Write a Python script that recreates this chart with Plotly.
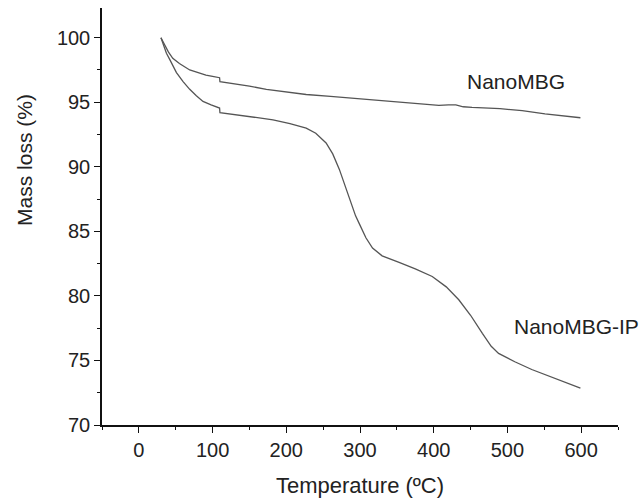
import plotly.graph_objects as go

# NanoMBG
t_mbg = [30, 35, 40, 46, 55, 69, 80, 91, 100, 109.5, 110, 130, 150, 173, 200, 227, 260, 300, 339, 370,
         407, 420, 430, 440, 452, 490, 520, 551, 575, 599]
m_mbg = [100, 99.4, 98.9, 98.4, 98.0, 97.5, 97.3, 97.1, 97.0, 96.9, 96.6, 96.45, 96.25, 96.0, 95.8, 95.6,
         95.45, 95.25, 95.06, 94.95, 94.75, 94.8, 94.8, 94.65, 94.6, 94.5, 94.35, 94.1, 93.95, 93.8]

# NanoMBG-IP
t_ip = [30, 34, 37.4, 42, 51, 60, 69, 78, 87, 98, 109.5, 110, 130, 150, 182, 205, 227, 240, 254, 263,
        272, 283, 294, 299, 308, 317, 330, 353, 375, 398, 417, 434, 450, 466, 478, 488, 510, 533, 565, 599]
m_ip = [100, 99.4, 98.8, 98.3, 97.3, 96.6, 96.0, 95.5, 95.06, 94.8, 94.55, 94.2, 94.05, 93.9, 93.64, 93.35,
        93.0, 92.6, 91.85, 91.0, 89.8, 88.0, 86.2, 85.6, 84.5, 83.7, 83.1, 82.6, 82.1, 81.5, 80.7, 79.7,
        78.5, 77.1, 76.1, 75.55, 74.9, 74.3, 73.6, 72.85]

x_ticks = [0, 100, 200, 300, 400, 500, 600]
y_ticks = [70, 75, 80, 85, 90, 95, 100]

FONT = "Liberation Sans, Arial, sans-serif"
LINE = "#555555"
TXT = "#222222"

fig = go.Figure()
fig.add_trace(go.Scatter(x=t_mbg, y=m_mbg, mode="lines", line=dict(color=LINE, width=1.3),
                         name="NanoMBG", showlegend=False))
fig.add_trace(go.Scatter(x=t_ip, y=m_ip, mode="lines", line=dict(color=LINE, width=1.3),
                         name="NanoMBG-IP", showlegend=False))

fig.add_annotation(x=511, y=96.6, text="NanoMBG", showarrow=False,
                   font=dict(family=FONT, size=21, color=TXT))
fig.add_annotation(xref="paper", yref="y", x=1.044, y=77.6, text="NanoMBG-IP", showarrow=False,
                   xanchor="right", font=dict(family=FONT, size=21, color=TXT))
# y-axis title (placed above centre, as in the reference)
fig.add_annotation(xref="paper", yref="y", x=-0.15, y=90.5, text="Mass loss (%)", textangle=-90,
                   showarrow=False, xanchor="center", yanchor="middle",
                   font=dict(family=FONT, size=21, color=TXT))

axis_common = dict(showgrid=False, zeroline=False, showline=True, linecolor="#111111", linewidth=1.5,
                   ticks="outside", ticklen=6, tickwidth=1.3, tickcolor="#111111",
                   tickfont=dict(family=FONT, size=20, color=TXT))

fig.update_xaxes(range=[-50, 650], tickvals=x_ticks, ticktext=[str(v) for v in x_ticks],
                 minor=dict(dtick=50, tick0=0, ticks="outside", ticklen=3, tickcolor="#111111", tickwidth=1.2),
                 title=dict(text="Temperature (ºC)", font=dict(family=FONT, size=22, color=TXT), standoff=18),
                 **axis_common)
fig.update_yaxes(range=[70, 102.3], tickvals=y_ticks, ticktext=[str(v) for v in y_ticks],
                 minor=dict(dtick=2.5, tick0=70, ticks="outside", ticklen=3, tickcolor="#111111", tickwidth=1.2),
                 **axis_common)

fig.update_layout(width=643, height=502, margin=dict(l=102, r=25, t=8, b=77),
                  plot_bgcolor="white", paper_bgcolor="white")

fig.write_html("out.html", config={"displayModeBar": False},
               post_script="document.body.style.margin='0';")
